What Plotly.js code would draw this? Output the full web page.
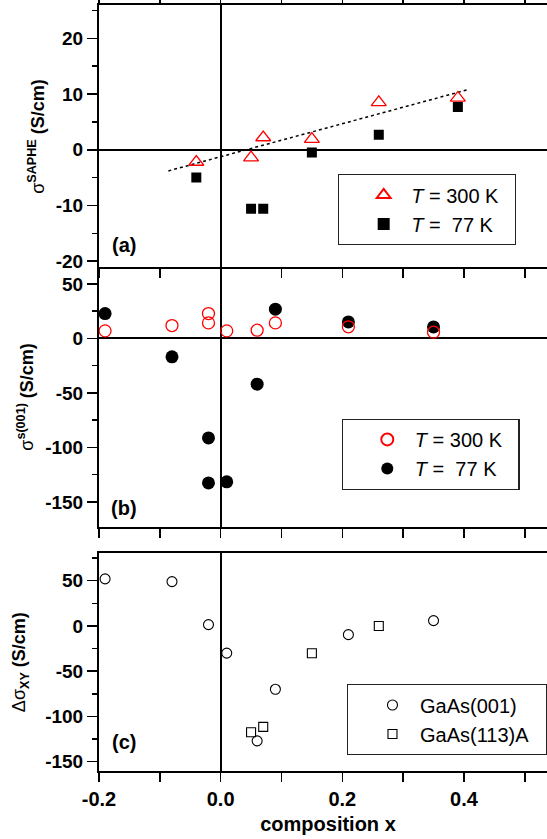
<!DOCTYPE html>
<html>
<head>
<meta charset="utf-8">
<script src="https://cdn.plot.ly/plotly-3.0.1.min.js"></script>
<style>html,body{margin:0;padding:0;overflow:hidden;background:#fff}</style>
</head>
<body>
<div id="chart"></div>
<script>
// ---- data ----
const xTicks = [-0.2, 0.0, 0.2, 0.4];
const xTickText = ["-0.2", "0.0", "0.2", "0.4"];
const xMinor = [-0.1, 0.1, 0.3, 0.5];

// panel (a): sigma SAPHE
const xA = [-0.04, 0.05, 0.07, 0.15, 0.26, 0.39];
const yA300 = [-2.2, -1.4, 2.2, 1.9, 8.5, 9.3];
const yA77 = [-5.0, -10.6, -10.6, -0.5, 2.7, 7.7];
const fitX = [-0.086, 0.405];
const fitY = [-3.8, 10.75];
const yTicksA = [-20, -10, 0, 10, 20];
const yMinorA = [-15, -5, 5, 15, 25];

// panel (b): sigma s(001)
const xB = [-0.19, -0.08, -0.02, -0.02, 0.01, 0.06, 0.09, 0.21, 0.35];
const yB300 = [7.0, 11.9, 22.9, 14.3, 7.0, 7.6, 14.3, 10.7, 5.8];
const yB77 = [22.9, -16.8, -91.2, -132.5, -131.5, -41.9, 26.9, 15.2, 10.6];
const yTicksB = [-150, -100, -50, 0, 50];
const yMinorB = [-125, -75, -25, 25];

// panel (c): delta sigma XY
const xC001 = [-0.19, -0.08, -0.02, 0.01, 0.06, 0.09, 0.21, 0.35];
const yC001 = [52, 49, 1.5, -30, -127, -70, -9.6, 5.9];
const xC113 = [0.05, 0.07, 0.15, 0.26];
const yC113 = [-117.4, -111.5, -30.2, 0];
const yTicksC = [-150, -100, -50, 0, 50];
const yMinorC = [-125, -75, -25, 25, 75];

const NB = "\u00a0";
const legendNames = ["<i>T</i> = 300 K" + NB + NB, "<i>T</i> =" + NB + " 77 K"];
const sampleNames = ["GaAs(001)", "GaAs(113)A" + NB + NB];
const yTitles = ["σ<sup><b>SAPHE</b></sup> <b>(S/cm)</b>",
                 "σ<sup><b>s(001)</b></sup> <b>(S/cm)</b>",
                 "Δσ<sub><b>XY</b></sub> <b>(S/cm)</b>"];
const panelLabels = ["(a)", "(b)", "(c)"];

// ---- styling ----
const FONT = "Arial, 'Liberation Sans', sans-serif";
const RED = "#ff0000";
const bold = v => "<b>" + v + "</b>";
const fmtY = v => bold(String(v));

const traces = [
  {x: fitX, y: fitY, xaxis: "x", yaxis: "y", mode: "lines", showlegend: false,
   line: {color: "#000", width: 1.5, dash: "dot"}, hoverinfo: "skip"},
  {x: xA, y: yA77, xaxis: "x", yaxis: "y", mode: "markers", name: legendNames[1],
   legend: "legend", legendrank: 2,
   marker: {symbol: "square", size: 10, color: "#000"}},
  {x: xA, y: yA300, xaxis: "x", yaxis: "y", mode: "markers", name: legendNames[0],
   legend: "legend", legendrank: 1,
   marker: {symbol: "triangle-up-open", size: 13, color: RED, line: {width: 1.3, color: RED}}},
  {x: xB, y: yB77, xaxis: "x2", yaxis: "y2", mode: "markers", name: legendNames[1],
   legend: "legend2", legendrank: 2,
   marker: {symbol: "circle", size: 13, color: "#000"}},
  {x: xB, y: yB300, xaxis: "x2", yaxis: "y2", mode: "markers", name: legendNames[0],
   legend: "legend2", legendrank: 1,
   marker: {symbol: "circle-open", size: 12, color: RED, line: {width: 1.3, color: RED}}},
  {x: xC001, y: yC001, xaxis: "x3", yaxis: "y3", mode: "markers", name: sampleNames[0],
   legend: "legend3", legendrank: 1,
   marker: {symbol: "circle-open", size: 10, color: "#000", line: {width: 1.1, color: "#000"}}},
  {x: xC113, y: yC113, xaxis: "x3", yaxis: "y3", mode: "markers", name: sampleNames[1],
   legend: "legend3", legendrank: 2,
   marker: {symbol: "square-open", size: 9, color: "#000", line: {width: 1.1, color: "#000"}}}
];

const tickFont = {family: FONT, size: 19, color: "#000", weight: "bold"};

function xax(anchor, showLabels, mirror) {
  return {
    anchor: anchor, range: [-0.2, 0.553], showgrid: false,
    showline: true, linewidth: 2, linecolor: "#000", mirror: mirror,
    ticks: "outside", ticklen: 9, tickwidth: 1.5, tickcolor: "#000",
    tickmode: "array", tickvals: xTicks, ticktext: xTickText.map(bold),
    minor: {tickmode: "array", tickvals: xMinor, ticks: "outside", ticklen: 9, tickwidth: 1.5, tickcolor: "#000", showgrid: false},
    showticklabels: showLabels, tickfont: {family: FONT, size: 20, color: "#000", weight: "bold"},
    zeroline: true, zerolinecolor: "#000", zerolinewidth: 2
  };
}
function yax(anchor, domain, range, ticks, minor, zeroline) {
  return {
    anchor: anchor, domain: domain, range: range, showgrid: false,
    showline: true, linewidth: 2, linecolor: "#000", mirror: false,
    ticks: "outside", ticklen: 10, tickwidth: 1.5, tickcolor: "#000",
    tickmode: "array", tickvals: ticks, ticktext: ticks.map(fmtY), tickfont: tickFont,
    minor: {tickmode: "array", tickvals: minor, ticks: "outside", ticklen: 5, tickwidth: 1.5, tickcolor: "#000", showgrid: false},
    zeroline: zeroline, zerolinecolor: "#000", zerolinewidth: 2
  };
}

function legendBox(x, y, extra) {
  return Object.assign({x: x, y: y, xanchor: "left", yanchor: "top",
    bgcolor: "#fff", bordercolor: "#222", borderwidth: 1.2,
    font: {family: FONT, size: 20, color: "#000"}, itemwidth: 45, indentation: 17}, extra || {});
}

function yTitle(i, xd) {
  const ax = i === 0 ? "" : String(i + 1);
  return {text: yTitles[i], xref: "x" + ax + " domain", yref: "y" + ax + " domain",
    x: xd, y: 0.5, xanchor: "center", yanchor: "middle", textangle: -90, showarrow: false,
    font: {family: FONT, size: 18, color: "#000"}};
}
function panelLabel(i, xd, yd) {
  const ax = i === 0 ? "" : String(i + 1);
  return {text: bold(panelLabels[i]), xref: "x" + ax + " domain", yref: "y" + ax + " domain",
    x: xd, y: yd, xanchor: "left", yanchor: "middle", showarrow: false,
    font: {family: FONT, size: 20, color: "#000"}};
}

const layout = {
  width: 557, height: 839,
  margin: {l: 99, r: 0, t: 5, b: 68},
  paper_bgcolor: "#fff", plot_bgcolor: "#fff",
  showlegend: true,
  xaxis: xax("y", false, "ticks"),
  xaxis2: xax("y2", false, false),
  xaxis3: Object.assign(xax("y3", true, true), {
    title: {text: "<b>composition x</b>", font: {family: FONT, size: 20, color: "#000"}, standoff: 8},
    automargin: true
  }),
  yaxis: yax("x", [0.6584, 1], [-21, 26], yTicksA, yMinorA, true),
  yaxis2: yax("x2", [0.3189, 0.6584], [-172.7, 65.9], yTicksB, yMinorB, true),
  yaxis3: yax("x3", [0, 0.2842], [-160.3, 80.3], yTicksC, yMinorC, false),
  legend: legendBox(0.5218, 0.779, {itemsizing: "constant"}),
  legend2: legendBox(0.5297, 0.4599, {itemsizing: "constant"}),
  legend3: legendBox(0.541, 0.1132),
  annotations: [
    yTitle(0, -0.1354), yTitle(1, -0.1594), yTitle(2, -0.1725),
    panelLabel(0, 0.024, 0.083), panelLabel(1, 0.022, 0.072), panelLabel(2, 0.024, 0.135)
  ]
};

Plotly.newPlot("chart", traces, layout, {displayModeBar: false, staticPlot: true});
</script>
</body>
</html>
